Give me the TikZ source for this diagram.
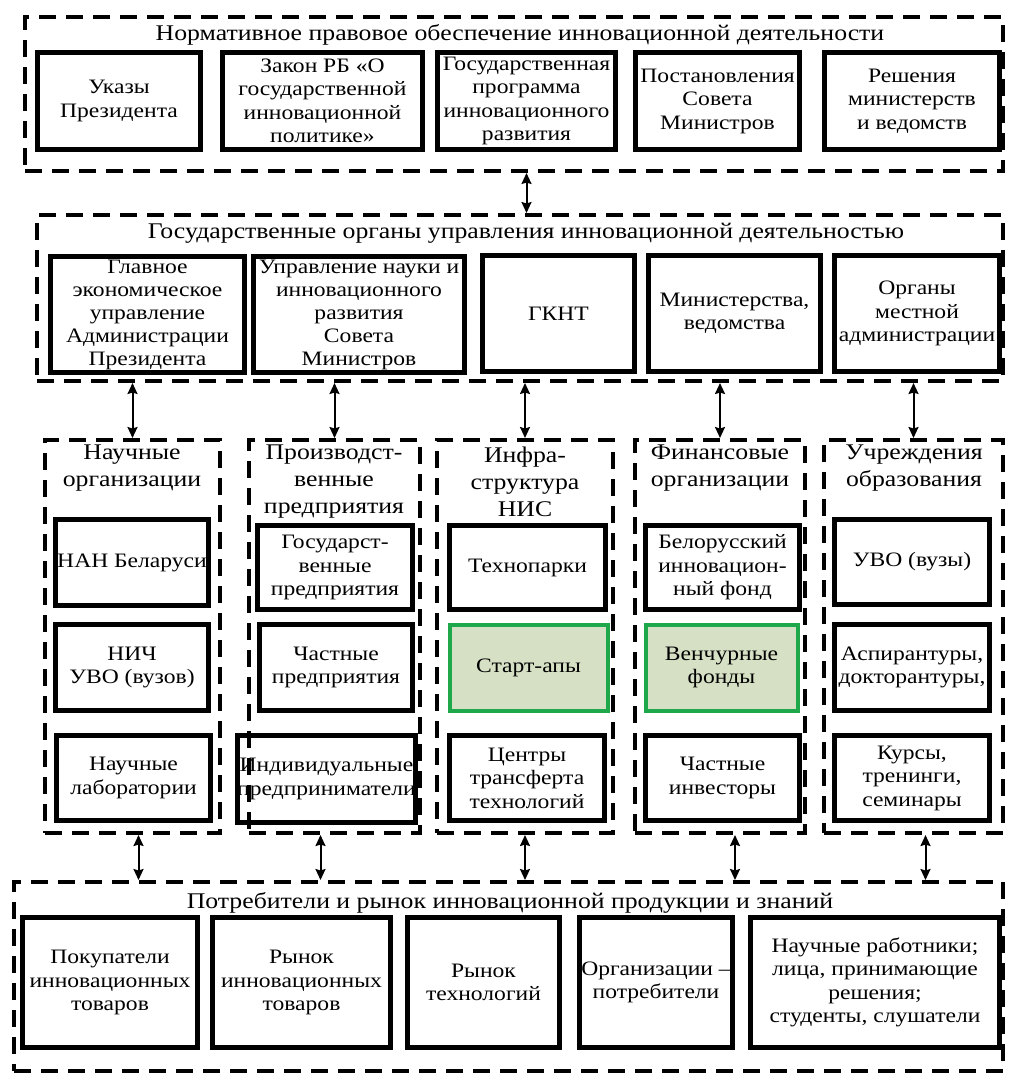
\documentclass[tikz,border=0pt]{standalone}
\usepackage{fontspec}
\setmainfont[FakeStretch=1.15]{Liberation Serif}
\usetikzlibrary{arrows.meta}

\definecolor{startgreen}{RGB}{30,168,74}
\definecolor{startfill}{RGB}{214,224,196}

\begin{document}
\begin{tikzpicture}[x=1pt, y=-1pt]

  \tikzstyle{group} = [rectangle, draw=black, line width=4pt, dash pattern=on 17pt off 10pt, inner sep=0pt]
  \tikzstyle{unit} = [rectangle, align=center, draw=black, line width=5pt, inner sep=0pt, font=\fontsize{20.5}{23.5}\selectfont]
  \tikzstyle{new} = [unit, draw=startgreen, fill=startfill, line width=4pt]
  \tikzstyle{heading} = [align=center, inner sep=0pt, font=\fontsize{22.4}{24}\selectfont]
  \tikzstyle{colhead} = [heading, font=\fontsize{22.4}{27}\selectfont]
  \tikzstyle{arrow} = [line width=2pt, {Stealth[length=11pt, width=10pt, inset=1.5pt]}-{Stealth[length=11pt, width=10pt, inset=1.5pt]}]

  \useasboundingbox (0,0) rectangle (1009,1077);

  \node (norm) [group, minimum width=978, minimum height=154] at (514,94) {};
  \node (normtitle) [heading] at (520,35) {Нормативное правовое обеспечение инновационной деятельности};
  \node (ukaz)  [unit, minimum width=163, minimum height=97] at (119,101) {Указы\\Президента};
  \node (zakon) [unit, minimum width=200, minimum height=97] at (322.5,101) {Закон РБ «О\\государственной\\инновационной\\политике»};
  \node (prog)  [unit, minimum width=178, minimum height=97] at (526.5,101) {Государственная\\программа\\инновационного\\развития};
  \node (post)  [unit, minimum width=164, minimum height=97] at (717.5,101) {Постановления\\Совета\\Министров};
  \node (resh)  [unit, minimum width=175, minimum height=97] at (912,101) {Решения\\министерств\\и ведомств};

  \node (organs) [group, minimum width=966, minimum height=166] at (520,298) {};
  \node (organstitle) [heading] at (526,233) {Государственные органы управления инновационной деятельностью};
  \node (glav)   [unit, minimum width=194, minimum height=116, font=\fontsize{20.5}{23}\selectfont] at (147.5,314.5) {Главное\\экономическое\\управление\\Администрации\\Президента};
  \node (upr)    [unit, minimum width=211, minimum height=116, font=\fontsize{20.5}{23}\selectfont] at (359,314.5) {Управление науки и\\инновационного\\развития\\Совета\\Министров};
  \node (gknt)   [unit, minimum width=152, minimum height=116] at (558.5,313.5) {ГКНТ};
  \node (minist) [unit, minimum width=172, minimum height=116] at (734.5,313.5) {Министерства,\\ведомства};
  \node (mest)   [unit, minimum width=165, minimum height=116] at (917,313.5) {Органы\\местной\\администрации};

  \node (sci)   [group, minimum width=175, minimum height=393] at (132.5,636.5) {};
  \node (prod)  [group, minimum width=171, minimum height=393] at (334.5,636.5) {};
  \node (infra) [group, minimum width=176, minimum height=393] at (525,636.5) {};
  \node (fin)   [group, minimum width=170, minimum height=393] at (720,636.5) {};
  \node (edu)   [group, minimum width=179, minimum height=393] at (913.5,636.5) {};

  \node (scititle)   [colhead] at (132,468.5) {Научные\\организации};
  \node (prodtitle)  [colhead] at (334,482) {Производст-\\венные\\предприятия};
  \node (infratitle) [colhead] at (525,482) {Инфра-\\структура\\НИС};
  \node (fintitle)   [colhead] at (720,468.5) {Финансовые\\организации};
  \node (edutitle)   [colhead] at (914,468.5) {Учреждения\\образования};

  \node (nan)  [unit, minimum width=153, minimum height=86] at (132,562.5) {НАН Беларуси};
  \node (nich) [unit, minimum width=153, minimum height=86] at (132,667.5) {НИЧ\\УВО (вузов)};
  \node (lab)  [unit, minimum width=154, minimum height=85] at (133.5,778) {Научные\\лаборатории};

  \node (gosp)  [unit, minimum width=155, minimum height=84] at (335,567.5) {Государст-\\венные\\предприятия};
  \node (chast) [unit, minimum width=153, minimum height=86] at (336,667.5) {Частные\\предприятия};
  \node (ip)    [unit, minimum width=168, minimum height=87] at (326.5,779) {Индивидуальные\\предприниматели};

  \node (tpark) [unit, minimum width=156, minimum height=84] at (527.5,567.5) {Технопарки};
  \node (start) [new,  minimum width=158, minimum height=86] at (528.5,667.5) {Старт-апы};
  \node (ctt)   [unit, minimum width=155, minimum height=85] at (527,778) {Центры\\трансферта\\технологий};

  \node (bif)    [unit, minimum width=154, minimum height=84] at (722.5,567.5) {Белорусский\\инновацион-\\ный фонд};
  \node (vent)   [new,  minimum width=152, minimum height=86] at (721.5,667.5) {Венчурные\\фонды};
  \node (invest) [unit, minimum width=154, minimum height=85] at (722.5,778) {Частные\\инвесторы};

  \node (uvo)  [unit, minimum width=155, minimum height=85] at (912,562) {УВО (вузы)};
  \node (asp)  [unit, minimum width=155, minimum height=86] at (912,667.5) {Аспирантуры,\\докторантуры,};
  \node (kurs) [unit, minimum width=155, minimum height=85] at (912,778) {Курсы,\\тренинги,\\семинары};

  \node (market) [group, minimum width=989, minimum height=189] at (508.5,976.5) {};
  \node (markettitle) [heading] at (510,903) {Потребители и рынок инновационной продукции и знаний};
  \node (buyers) [unit, minimum width=175, minimum height=130] at (110,982.5) {Покупатели\\инновационных\\товаров};
  \node (goods)  [unit, minimum width=178, minimum height=130] at (301.5,982.5) {Рынок\\инновационных\\товаров};
  \node (techm)  [unit, minimum width=152, minimum height=130] at (483.5,982.5) {Рынок\\технологий};
  \node (orgc)   [unit, minimum width=153, minimum height=130] at (656,982.5) {Организации –\\потребители};
  \node (people) [unit, minimum width=249, minimum height=130] at (875,982.5) {Научные работники;\\лица, принимающие\\решения;\\студенты, слушатели};

  \draw [arrow] (norm.south -| prog.south) -- (organs.north -| prog.south);

  \draw [arrow] (organs.south -| sci.north) -- (sci.north);
  \draw [arrow] (organs.south -| prod.north) -- (prod.north);
  \draw [arrow] (organs.south -| infra.north) -- (infra.north);
  \draw [arrow] (organs.south -| fin.north) -- (fin.north);
  \draw [arrow] (organs.south -| edu.north) -- (edu.north);

  \draw [arrow] ([xshift=6]sci.south) -- ([xshift=6]market.north -| sci.south);
  \draw [arrow] ([xshift=-14]prod.south) -- ([xshift=-14]market.north -| prod.south);
  \draw [arrow] (infra.south) -- (market.north -| infra.south);
  \draw [arrow] ([xshift=15]fin.south) -- ([xshift=15]market.north -| fin.south);
  \draw [arrow] ([xshift=12]edu.south) -- ([xshift=12]market.north -| edu.south);

\end{tikzpicture}
\end{document}
